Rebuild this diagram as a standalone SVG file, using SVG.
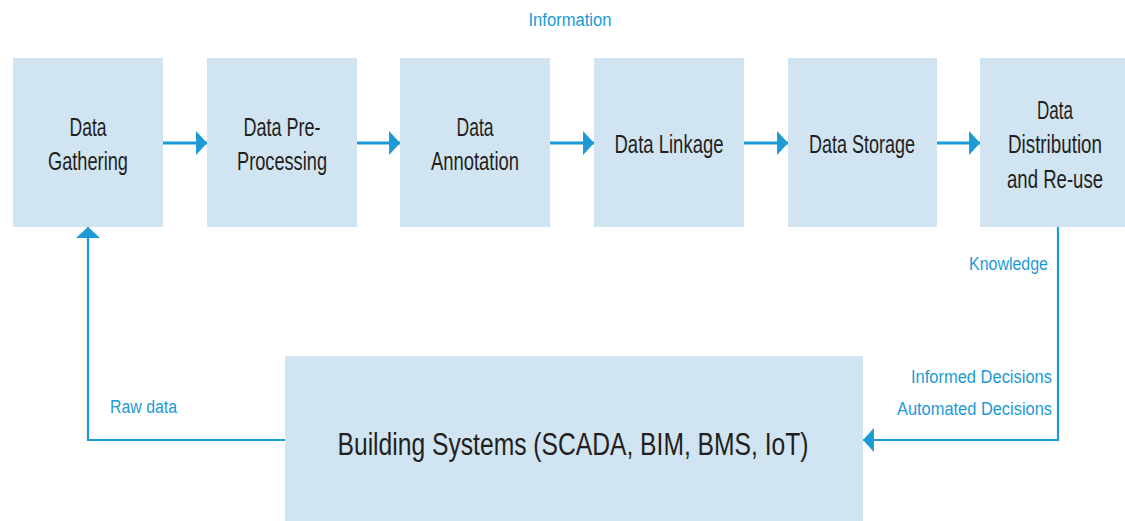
<svg xmlns="http://www.w3.org/2000/svg" width="1125" height="521" viewBox="0 0 1125 521">
<defs>
<style>
.box{fill:#d1e4f2;}
.t{font-family:"Liberation Sans",Arial,sans-serif;font-size:26px;fill:#231f20;text-anchor:middle;}
.big{font-family:"Liberation Sans",Arial,sans-serif;font-size:31px;fill:#231f20;text-anchor:middle;}
.lbl{font-family:"Liberation Sans",Arial,sans-serif;font-size:18px;fill:#1b9ad6;}
.c{fill:none;stroke:#1b9ad6;stroke-width:3;}
.c2{fill:none;stroke:#1b9ad6;stroke-width:2.2;}
</style>
<marker id="ah" markerUnits="userSpaceOnUse" markerWidth="12" markerHeight="24" viewBox="0 0 10 22" refX="10" refY="11" orient="auto">
<path d="M0,0 L10,11 L0,22 Z" fill="#1b9ad6"/>
</marker>
</defs>
<g id="connectors">
<line class="c" x1="163" y1="143" x2="207" y2="143" marker-end="url(#ah)"/>
<line class="c" x1="357" y1="143" x2="400" y2="143" marker-end="url(#ah)"/>
<line class="c" x1="550" y1="143" x2="594" y2="143" marker-end="url(#ah)"/>
<line class="c" x1="744" y1="143" x2="788" y2="143" marker-end="url(#ah)"/>
<line class="c" x1="937" y1="143" x2="980" y2="143" marker-end="url(#ah)"/>
<polyline class="c2" points="1058,227 1058,440 863,440" marker-end="url(#ah)"/>
<polyline class="c2" points="285,440 88,440 88,227" marker-end="url(#ah)"/>
<text class="lbl" x="570" y="26" text-anchor="middle" textLength="83" lengthAdjust="spacingAndGlyphs">Information</text>
<text class="lbl" x="1048" y="270" text-anchor="end" textLength="79" lengthAdjust="spacingAndGlyphs">Knowledge</text>
<text class="lbl" x="1052" y="383" text-anchor="end" textLength="141" lengthAdjust="spacingAndGlyphs">Informed Decisions</text>
<text class="lbl" x="1052" y="415" text-anchor="end" textLength="155" lengthAdjust="spacingAndGlyphs">Automated Decisions</text>
<text class="lbl" x="110" y="413" textLength="67" lengthAdjust="spacingAndGlyphs">Raw data</text>
</g>
<g id="n1">
<rect class="box" x="13" y="58" width="150" height="169"/>
<text class="t" x="88" y="136" textLength="37" lengthAdjust="spacingAndGlyphs">Data</text>
<text class="t" x="88" y="170" textLength="80" lengthAdjust="spacingAndGlyphs">Gathering</text>
</g>
<g id="n2">
<rect class="box" x="207" y="58" width="150" height="169"/>
<text class="t" x="282" y="136" textLength="77" lengthAdjust="spacingAndGlyphs">Data Pre-</text>
<text class="t" x="282" y="170" textLength="90" lengthAdjust="spacingAndGlyphs">Processing</text>
</g>
<g id="n3">
<rect class="box" x="400" y="58" width="150" height="169"/>
<text class="t" x="475" y="136" textLength="37" lengthAdjust="spacingAndGlyphs">Data</text>
<text class="t" x="475" y="170" textLength="88" lengthAdjust="spacingAndGlyphs">Annotation</text>
</g>
<g id="n4">
<rect class="box" x="594" y="58" width="150" height="169"/>
<text class="t" x="669" y="153" textLength="109" lengthAdjust="spacingAndGlyphs">Data Linkage</text>
</g>
<g id="n5">
<rect class="box" x="788" y="58" width="149" height="169"/>
<text class="t" x="862" y="153" textLength="106" lengthAdjust="spacingAndGlyphs">Data Storage</text>
</g>
<g id="n6">
<rect class="box" x="980" y="58" width="145" height="169"/>
<text class="t" x="1055" y="119" textLength="36" lengthAdjust="spacingAndGlyphs">Data</text>
<text class="t" x="1055" y="153" textLength="94" lengthAdjust="spacingAndGlyphs">Distribution</text>
<text class="t" x="1055" y="188" textLength="96" lengthAdjust="spacingAndGlyphs">and Re-use</text>
</g>
<g id="n7">
<rect class="box" x="285" y="356" width="578" height="165"/>
<text class="big" x="573" y="455" textLength="471" lengthAdjust="spacingAndGlyphs">Building Systems (SCADA, BIM, BMS, IoT)</text>
</g>
</svg>
